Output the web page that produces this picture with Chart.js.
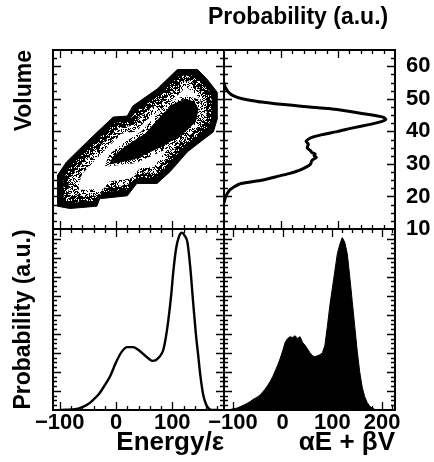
<!DOCTYPE html>
<html>
<head>
<meta charset="utf-8">
<script src="https://cdn.jsdelivr.net/npm/chart.js@4.4.1/dist/chart.umd.min.js"></script>
<style>
  html, body { margin: 0; padding: 0; background: #fff; }
  #fig { position: relative; width: 434px; height: 462px; overflow: hidden; background: #fff; }
  #fig canvas { position: absolute; }
</style>
</head>
<body>
<div id="fig">
  <canvas id="cBL" width="226" height="235" style="left:0px;top:227px"></canvas>
  <canvas id="cBR" width="234" height="235" style="left:200px;top:227px"></canvas>
  <canvas id="cTL" width="226" height="231" style="left:0px;top:0px"></canvas>
  <canvas id="cTR" width="226" height="259" style="left:208px;top:0px"></canvas>
</div>
<script>
// ---- tick labels ----
const ENERGY_TICKS = [-100, 0, 100];
const AEBV_TICKS = [-100, 0, 100, 200];
const VOLUME_TICKS = [10, 20, 30, 40, 50, 60];

// ---- energy distribution (bottom left) ----
const energyGrid = [-100, -90, -80, -70, -60, -50, -40, -30, -20, -10,
  0, 10, 20, 30, 40, 50, 60, 65, 70, 76,
  80, 84, 88, 93, 98, 102, 107, 112, 117, 122,
  127, 132, 137, 142, 146, 150, 155, 160, 165, 170, 180];
const energyProb = [0, 0.001, 0.003, 0.005, 0.015, 0.03, 0.055, 0.085, 0.13, 0.18,
  0.25, 0.305, 0.33, 0.33, 0.315, 0.29, 0.265, 0.258, 0.26, 0.275,
  0.29, 0.315, 0.37, 0.47, 0.60, 0.73, 0.85, 0.91, 0.93, 0.915,
  0.88, 0.75, 0.57, 0.40, 0.29, 0.18, 0.08, 0.03, 0.008, 0, 0];

// ---- volume distribution (top right) ----
const volumeLevels = [18, 20, 22, 23, 24, 25, 26, 27, 28, 29,
  30, 31, 32, 32.5, 33, 33.5, 34, 35, 36, 37,
  38, 39, 40, 41, 42, 43, 43.7, 44.3, 45, 46,
  47, 47.5, 48, 48.5, 49, 49.5, 50, 51, 52, 53, 54, 55];
const volumeProb = [0, 0.015, 0.05, 0.09, 0.15, 0.33, 0.45, 0.57, 0.66, 0.72,
  0.76, 0.77, 0.81, 0.79, 0.80, 0.77, 0.76, 0.73, 0.74, 0.72,
  0.76, 0.86, 1.0, 1.12, 1.26, 1.38, 1.42, 1.40, 1.30, 1.12,
  0.92, 0.75, 0.60, 0.45, 0.33, 0.24, 0.16, 0.08, 0.04, 0.02, 0.005, 0];

// ---- histogram of alpha*E + beta*V (bottom right) ----
const aeBvBins = [-110, -105, -100, -95, -90, -85, -80, -75, -70, -65,
  -60, -55, -50, -45, -40, -35, -30, -25, -20, -15,
  -10, -5, 0, 5, 10, 15, 20, 25, 30, 35,
  40, 45, 50, 55, 60, 65, 70, 75, 80, 85,
  90, 95, 100, 105, 110, 115, 120, 125, 130, 135,
  140, 145, 150, 155, 160, 165, 170, 175, 180, 185, 190];
const aeBvCounts = [0, 0.003, 0.006, 0.008, 0.012, 0.018, 0.024, 0.03, 0.037, 0.045,
  0.055, 0.062, 0.07, 0.08, 0.095, 0.11, 0.13, 0.15, 0.175, 0.205,
  0.235, 0.27, 0.31, 0.355, 0.375, 0.385, 0.38, 0.39, 0.375, 0.385,
  0.355, 0.34, 0.32, 0.30, 0.285, 0.28, 0.285, 0.29, 0.30, 0.34,
  0.44, 0.55, 0.64, 0.73, 0.82, 0.87, 0.905, 0.88, 0.82, 0.70,
  0.57, 0.44, 0.31, 0.20, 0.12, 0.07, 0.04, 0.02, 0.01, 0.004, 0];

// ---- joint (energy, volume) density contours, [energy, volume] ----
const contourOuter = [[-104, 26.5], [-104, 17], [-82, 16.3], [-34, 17], [-29, 19.3], [20, 20.2],
  [37, 24], [73, 24], [96, 27.6], [127, 33.7], [150, 36.8], [173, 39.8], [180, 43.8], [180, 52],
  [162, 56], [145, 59], [109, 59], [91, 56], [73, 53], [30, 47.8], [20, 44.7], [-5, 44.4],
  [-46, 37.7], [-88, 30.6]];
const contourDense = [[-93, 25.4], [-93, 18.7], [-79, 18.1], [-34, 18.7], [-25, 21.2], [20, 22.1],
  [36, 25.7], [71, 25.7], [91, 29.4], [120, 35.2], [143, 38.3], [164, 41.3], [170, 44.4], [170, 51.4],
  [155, 54.5], [139, 57.2], [113, 57.2], [96, 54.5], [79, 51.4], [36, 46.2], [23, 43.2], [-2, 42.6],
  [-41, 36.1], [-82, 29.1]];
const contourSparse = [[-84, 24.8], [-84, 20.2], [-30, 20.2], [-21, 22.7], [21, 23.6], [39, 27.3],
  [70, 27.3], [86, 30.6], [114, 36.5], [136, 39.5], [155, 42.6], [161, 45], [161, 50.8], [148, 53],
  [134, 55.4], [116, 55.4], [104, 53], [86, 49.9], [43, 44.7], [30, 41.7], [4, 41], [-34, 34.6],
  [-73, 27.9]];
const contourClear = [[-66, 24.0], [-66, 22.0], [-22, 22.4], [-12, 24.6], [27, 25.6], [44, 29.0],
  [67, 29.0], [81, 32.3], [107, 37.7], [128, 41.0], [146, 44.0], [150, 46.0], [150, 49.8], [140, 51.5],
  [129, 53.2], [122, 53.2], [110, 51.2], [92, 48.3], [52, 43.2], [37, 40.0], [10, 39.3], [-27, 33.0],
  [-60, 27.0]];
const contourHalo = [[-20, 29.1], [36, 30.3], [86, 34.3], [123, 38.3], [150, 42.3], [155, 46.9],
  [146, 49.9], [123, 51.1], [95, 49], [73, 45.3], [46, 40.1], [11, 36.1], [-13, 32.8]];
const contourCore = [[-11, 30], [34, 31.6], [82, 35.5], [118, 39.2], [141, 42.9], [146, 46.9],
  [139, 49], [123, 49.9], [100, 48.1], [79, 44.4], [52, 39.2], [16, 35.2], [-5, 32.2]];

// ---------------------------------------------------------------
const FONT = "'Liberation Sans', Arial, sans-serif";
const fmtTick = v => (v < 0 ? '\u2212' + Math.abs(v) : String(v));
const steps = (a, b, s) => { const out = []; for (let v = a; v <= b + 1e-9; v += s) out.push(+v.toFixed(4)); return out; };
const tickFont = { family: FONT, size: 22, weight: 'bold' };

// inward tick marks on all four sides plus the frame
const frameTicks = {
  id: 'frameTicks',
  afterDatasetsDraw(chart, args, o) {
    const { ctx, chartArea: a } = chart;
    const xs = chart.scales[o.xScale || 'x'], ys = chart.scales[o.yScale || 'y'];
    ctx.save();
    ctx.strokeStyle = '#000';
    ctx.lineWidth = 1.3;
    ctx.beginPath();
    const xt = (vals, len) => vals.forEach(v => {
      const p = Math.round(xs.getPixelForValue(v)) + 0.5;
      if (p <= a.left + 1 || p >= a.right - 1) return;
      ctx.moveTo(p, a.bottom); ctx.lineTo(p, a.bottom - len);
      ctx.moveTo(p, a.top); ctx.lineTo(p, a.top + len);
    });
    const yt = (vals, len) => vals.forEach(v => {
      const p = Math.round(ys.getPixelForValue(v)) + 0.5;
      if (p <= a.top + 1 || p >= a.bottom - 1) return;
      ctx.moveTo(a.left, p); ctx.lineTo(a.left + len, p);
      ctx.moveTo(a.right, p); ctx.lineTo(a.right - len, p);
    });
    xt(o.xMajor, 8); xt(o.xMinor, 4);
    yt(o.yMajor, 8); yt(o.yMinor, 4);
    ctx.stroke();
    ctx.lineWidth = 2;
    ctx.strokeRect(a.left, a.top, a.right - a.left, a.bottom - a.top);
    ctx.restore();
  }
};
Chart.register(frameTicks);

// grain texture for the intermediate contour bands
function stipple(density) {
  const n = 32;
  const c = document.createElement('canvas');
  c.width = c.height = n;
  const g = c.getContext('2d');
  g.fillStyle = '#fff'; g.fillRect(0, 0, n, n);
  g.fillStyle = '#000';
  for (let j = 0; j < n; j++) for (let i = 0; i < n; i++) {
    const h = Math.abs(Math.sin(i * 12.9898 + j * 78.233) * 43758.5453) % 1;
    if (h < density) g.fillRect(i, j, 1, 1);
  }
  return g.createPattern(c, 'repeat');
}

const hiddenGrid = { display: false, drawTicks: false };
const noBorder = { display: false };
const baseOpts = {
  responsive: false, animation: false, devicePixelRatio: 1,
  plugins: { legend: { display: false }, tooltip: { enabled: false } }
};

const energyMajor = ENERGY_TICKS, energyMinor = steps(-100, 180, 20);
const aeBvMajor = AEBV_TICKS, aeBvMinor = steps(-100, 220, 20);
const volMajor = VOLUME_TICKS, volMinor = steps(10, 65, 2.5);
const probMajor = steps(0, 0.9, 0.1), probMinor = steps(0, 0.95, 0.025);
const pTopMajor = steps(0, 1.5, 0.5), pTopMinor = steps(0, 1.5, 0.1);

const xy = (xsArr, ysArr) => xsArr.map((x, i) => ({ x, y: ysArr[i] }));
const ring = pts => pts.concat([pts[0]]).map(([x, y]) => ({ x, y }));
const poly = (pts, fillStyle, order, bw) => ({
  data: ring(pts), backgroundColor: fillStyle, borderColor: '#000', borderWidth: bw || 0,
  fill: 'shape', pointRadius: 0, tension: 0, order
});

// ---- top left: joint density ----
new Chart(document.getElementById('cTL'), {
  type: 'line',
  data: {
    datasets: [
      poly(contourOuter, '#000', 6, 1),
      poly(contourDense, stipple(0.78), 5),
      poly(contourSparse, stipple(0.42), 4),
      poly(contourClear, '#fff', 3),
      poly(contourHalo, stipple(0.4), 2),
      poly(contourCore, '#000', 1, 1)
    ]
  },
  options: {
    ...baseOpts,
    layout: { padding: { top: 50, right: 2, bottom: 2, left: 0 } },
    scales: {
      x: { type: 'linear', display: false, min: -112, max: 192 },
      y: {
        type: 'linear', position: 'left', min: 10, max: 65,
        ticks: { display: false }, grid: hiddenGrid, border: noBorder,
        title: { display: true, text: 'Volume', align: 'end', color: '#000',
          font: { family: FONT, size: 23, weight: 'bold' }, padding: { top: 11, bottom: 0 } },
        afterFit(s) { s.width = 53; }
      }
    },
    plugins: { ...baseOpts.plugins,
      frameTicks: { xMajor: energyMajor, xMinor: energyMinor, yMajor: volMajor, yMinor: volMinor } }
  }
});

// ---- top right: volume distribution ----
new Chart(document.getElementById('cTR'), {
  type: 'line',
  data: {
    datasets: [{
      data: xy(volumeProb, volumeLevels), borderColor: '#000', borderWidth: 3,
      pointRadius: 0, tension: 0.2, fill: false, xAxisID: 'x', yAxisID: 'y'
    }]
  },
  options: {
    ...baseOpts,
    layout: { padding: { top: 0, right: 0, bottom: 30, left: 0 } },
    scales: {
      x: { type: 'linear', display: false, min: 0, max: 1.5 },
      yl: {
        type: 'linear', position: 'left', min: 0, max: 1,
        ticks: { display: false }, grid: hiddenGrid, border: noBorder,
        afterFit(s) { s.width = 16; }
      },
      y: {
        type: 'linear', position: 'right', min: 10, max: 65,
        afterBuildTicks(s) { s.ticks = VOLUME_TICKS.map(value => ({ value })); },
        ticks: { color: '#000', font: tickFont, padding: 11, autoSkip: false, callback: fmtTick },
        grid: hiddenGrid, border: noBorder,
        afterFit(s) { s.width = 39; }
      }
    },
    plugins: { ...baseOpts.plugins,
      title: { display: true, text: 'Probability (a.u.)', align: 'start', color: '#000',
        font: { family: FONT, size: 23, weight: 'bold' }, padding: { top: 4, bottom: 18.4 } },
      frameTicks: { xMajor: pTopMajor, xMinor: pTopMinor, yMajor: volMajor, yMinor: volMinor } }
  }
});

// ---- bottom left: energy distribution ----
new Chart(document.getElementById('cBL'), {
  type: 'line',
  data: {
    datasets: [{
      data: xy(energyGrid, energyProb), borderColor: '#000', borderWidth: 2.4,
      pointRadius: 0, cubicInterpolationMode: 'monotone', fill: false
    }]
  },
  options: {
    ...baseOpts,
    layout: { padding: { top: 2, right: 2, bottom: 0, left: 0 } },
    scales: {
      x: {
        type: 'linear', position: 'bottom', min: -112, max: 192,
        afterBuildTicks(s) { s.ticks = ENERGY_TICKS.map(value => ({ value })); },
        ticks: { color: '#000', font: tickFont, padding: 0, autoSkip: false,
          maxRotation: 0, callback: fmtTick },
        grid: hiddenGrid, border: noBorder,
        title: { display: true, text: 'Energy/\u03b5', align: 'end', color: '#000',
          font: { family: FONT, size: 26, weight: 'bold' }, padding: { top: 0, bottom: 4 } },
        afterFit(s) { s.height = 52; }
      },
      y: {
        type: 'linear', position: 'left', min: 0, max: 0.95,
        ticks: { display: false }, grid: hiddenGrid, border: noBorder,
        title: { display: true, text: 'Probability (a.u.)', align: 'center', color: '#000',
          font: { family: FONT, size: 23, weight: 'bold' }, padding: { top: 10, bottom: 0 } },
        afterFit(s) { s.width = 53; }
      }
    },
    plugins: { ...baseOpts.plugins,
      frameTicks: { xMajor: energyMajor, xMinor: energyMinor, yMajor: probMajor, yMinor: probMinor } }
  }
});

// ---- bottom right: histogram of alpha E + beta V ----
new Chart(document.getElementById('cBR'), {
  type: 'line',
  data: {
    datasets: [{
      data: xy(aeBvBins, aeBvCounts), borderColor: '#000', backgroundColor: '#000', borderWidth: 1,
      pointRadius: 0, tension: 0, fill: 'origin'
    }]
  },
  options: {
    ...baseOpts,
    layout: { padding: { top: 2, right: 39, bottom: 0, left: 24 } },
    scales: {
      x: {
        type: 'linear', position: 'bottom', min: -118, max: 226,
        afterBuildTicks(s) { s.ticks = AEBV_TICKS.map(value => ({ value })); },
        ticks: { color: '#000', font: tickFont, padding: 0, autoSkip: false,
          maxRotation: 0, callback: fmtTick },
        grid: hiddenGrid, border: noBorder,
        title: { display: true, text: '\u03b1E + \u03b2V', align: 'end', color: '#000',
          font: { family: FONT, size: 26, weight: 'bold' }, padding: { top: 0, bottom: 4 } },
        afterFit(s) { s.height = 52; }
      },
      y: { type: 'linear', display: false, min: 0, max: 0.95 }
    },
    plugins: { ...baseOpts.plugins,
      frameTicks: { xMajor: aeBvMajor, xMinor: aeBvMinor, yMajor: probMajor, yMinor: probMinor } }
  }
});
</script>
</body>
</html>
